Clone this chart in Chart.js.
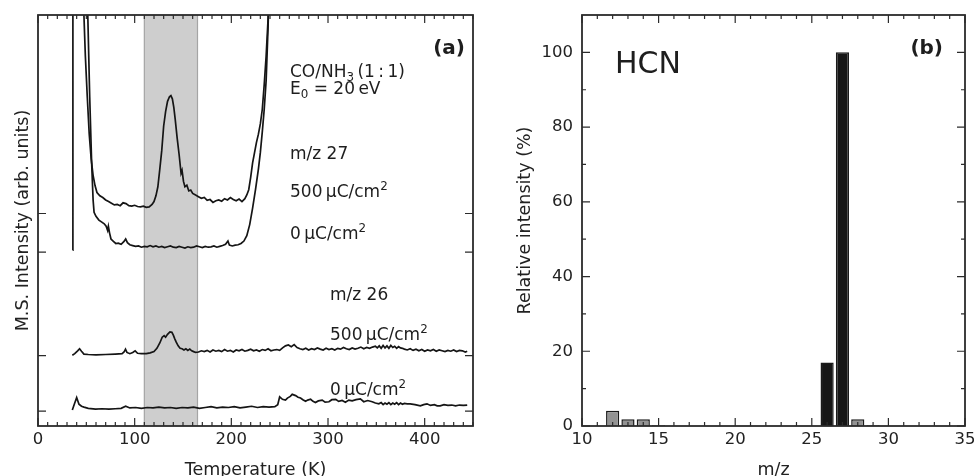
<!DOCTYPE html>
<html>
<head>
<meta charset="utf-8">
<script src="https://cdn.jsdelivr.net/npm/chart.js@4.4.0/dist/chart.umd.min.js"></script>
<style>
  body { margin: 0; background: #fff; overflow: hidden; width: 974px; height: 476px; position: relative; }
  canvas { position: absolute; top: 0; }
  #chartA { left: 0; }
  #chartB { left: 487px; }
</style>
</head>
<body>
<canvas id="chartA" width="487" height="481"></canvas>
<canvas id="chartB" width="487" height="481"></canvas>
<script>
// ---- panel (a): TPD traces, temperature (K) vs intensity (arb. units) ----
// m/z 27, 500 uC/cm2
var t27_500 = [45, 47.5, 49, 51, 53, 55, 57, 59, 61, 64,
  67, 70, 73, 76, 79, 82, 85, 88, 91, 94,
  97, 100, 103, 106, 109, 112, 115, 118, 120, 122,
  124, 126, 128, 130, 132, 134, 136, 137.5, 139, 140.5,
  142, 144, 146, 148, 149, 150.5, 152, 154, 156, 158,
  160, 163, 166, 169, 172, 175, 178, 181, 184, 187,
  190, 193, 196, 199, 202, 205, 208, 211, 214, 216,
  218, 220, 222, 224, 226, 228, 230, 232, 234, 236,
  238, 240];
var i27_500 = [130, 100, 90, 80, 71, 65, 61, 58.5, 56.8, 56,
  55.6, 55, 54.6, 54.2, 53.8, 53.9, 53.6, 54.3, 54.1, 53.6,
  53.5, 53.7, 53.4, 53.3, 53.5, 53.2, 53.3, 53.9, 54.6, 56,
  58.2, 62.5, 67, 73, 76.5, 79, 80.1, 80.4, 79.6, 77.5,
  74.5, 70, 66, 61.5, 62.2, 59.5, 58.2, 58.6, 57.2, 57.4,
  56.6, 56.2, 55.8, 55.4, 55.6, 54.9, 55.1, 54.4, 54.8, 55.0,
  54.7, 55.3, 55.0, 55.6, 55.1, 54.8, 55.2, 54.6, 55.3, 56.2,
  57.5, 60.5, 64, 66.5, 69, 71, 73.5, 77, 83, 90,
  99, 112];

// m/z 27, 0 uC/cm2 (null = gap after the edge at ~36 K)
var t27_0 = [35.8, 36.1, 40, 50, 51.5, 53.5, 55.5, 57, 58, 60,
  63, 66, 68.5, 70.5, 72, 72.8, 74, 75.5, 78, 80.5,
  83, 86, 89, 90.7, 92.5, 95, 98, 101, 104, 107,
  110, 113, 116, 119, 122, 125, 128, 131, 134, 137,
  140, 143, 146, 149, 152, 155, 158, 161, 164, 167,
  170, 173, 176, 179, 182, 185, 188, 191, 194, 196.5,
  198, 201, 204, 207, 210, 213, 216, 219, 222, 225,
  228, 230, 232, 234, 236, 238, 240];
var i27_0 = [42.8, 130, null, 130, 100, 80, 64, 55, 52, 51,
  50.1, 49.6, 49.2, 48.6, 47.6, 48.6, 47, 45.5, 44.9, 44.4,
  44.5, 44.2, 44.9, 45.5, 44.6, 44.1, 43.9, 43.7, 43.8, 43.5,
  43.7, 43.6, 43.9, 43.6, 43.8, 43.5, 43.7, 43.4, 43.6, 43.8,
  43.5, 43.4, 43.7, 43.5, 43.3, 43.6, 43.4, 43.5, 43.8, 43.6,
  43.4, 43.7, 43.5, 43.6, 43.8, 43.5, 43.7, 43.9, 44.2, 45.0,
  44.0, 43.8, 44.0, 44.1, 44.4, 45.0, 46.3, 49, 53, 57.5,
  62.5, 66.5, 71.5, 77, 84, 97, 115];

// m/z 26, 500 uC/cm2
var t26_500 = [35.5, 38, 41, 43, 45, 47.5, 52, 60, 70, 80,
  87, 89, 90.5, 92, 95, 98, 100.5, 103, 107, 112,
  116, 120, 123, 126, 128.5, 130.5, 132, 134, 136.5, 138.5,
  140, 141.5, 143, 145, 147, 149, 151, 153, 155, 157,
  159, 161, 163, 166, 169, 172, 175, 178, 181, 184,
  187, 190, 193, 196, 199, 202, 205, 208, 211, 214,
  217, 220, 223, 226, 229, 232, 235, 238, 241, 244,
  247, 250, 253, 256, 259, 262, 265, 268, 271, 274,
  277, 280, 283, 286, 289, 292, 295, 298, 301, 304,
  307, 310, 313, 316, 319, 322, 325, 328, 331, 334,
  337, 340, 343, 346, 349, 351, 353, 355, 357, 359,
  361, 363, 365, 367, 369, 371, 373, 375, 377, 379,
  382, 385, 388, 391, 394, 397, 400, 403, 406, 409,
  412, 415, 418, 421, 424, 427, 430, 433, 436, 439,
  442, 444];
var i26_500 = [17.2, 17.6, 18.3, 18.8, 18.2, 17.5, 17.4, 17.3, 17.4, 17.5,
  17.6, 18.0, 18.7, 17.9, 17.6, 17.9, 18.3, 17.7, 17.6, 17.6,
  17.8, 18.1, 18.9, 20.2, 21.6, 22.0, 21.6, 22.3, 22.9, 22.8,
  22.1, 21.2, 20.4, 19.5, 18.9, 18.8, 18.5, 18.8, 18.4, 18.7,
  18.3, 18.1, 17.9, 18.0, 18.3, 18.1, 18.4, 18.0, 18.5, 18.2,
  18.4, 18.1, 18.6, 18.2, 18.4, 18.0, 18.5, 18.3, 18.6, 18.2,
  18.4, 18.7, 18.3, 18.5, 18.2, 18.6, 18.4, 18.8, 18.3, 18.5,
  18.6, 18.4, 19.0, 19.5, 19.7, 19.3, 19.8, 19.1, 18.8, 18.6,
  18.9, 18.5, 18.8, 18.6, 19.0, 18.7, 18.5, 18.9, 18.6, 18.8,
  18.5, 18.9, 18.7, 19.1, 18.8, 18.6, 19.0, 18.7, 18.9, 19.2,
  18.8, 19.1, 18.9, 19.2, 19.4, 19.0, 19.5, 18.9, 19.6, 19.0,
  19.5, 18.9, 19.6, 19.1, 19.4, 18.9, 19.3, 19.0, 18.9, 18.7,
  18.5, 18.8, 18.4, 18.7, 18.3, 18.6, 18.2, 18.5, 18.3, 18.6,
  18.2, 18.5, 18.3, 18.1, 18.4, 18.2, 18.5, 18.1, 18.4, 18.3,
  18.0, 18.2];

// m/z 26, 0 uC/cm2
var t26_0 = [35.5, 38, 40, 42.4, 45, 47.6, 52, 59.6, 66, 73.4,
  80, 86, 90.7, 95, 101, 107, 113, 119, 125, 131,
  137, 143, 149, 155, 161, 167, 173, 179, 185, 191,
  197, 203, 209, 215, 221, 227, 233, 239, 245, 248,
  250, 252.9, 256, 258, 261, 263, 266.5, 269, 271.6, 274,
  276.8, 279, 282, 284.5, 287, 290, 294, 297, 301, 304,
  308, 311, 314.6, 318, 321.5, 325, 329, 333.5, 337, 341,
  345.7, 349, 352.6, 355, 357, 359, 361, 363, 365, 367,
  369, 371, 373, 375, 377, 379, 382, 385, 390, 395.5,
  399, 402.4, 406, 410, 413, 416, 420, 424, 428, 432,
  436, 440, 444];
var i26_0 = [3.9, 5.6, 6.9, 5.3, 4.8, 4.6, 4.3, 4.1, 4.2, 4.1,
  4.2, 4.3, 4.8, 4.4, 4.5, 4.3, 4.5, 4.4, 4.6, 4.4,
  4.5, 4.3, 4.5, 4.4, 4.6, 4.3, 4.5, 4.7, 4.4, 4.6,
  4.5, 4.7, 4.4, 4.6, 4.8, 4.5, 4.7, 4.6, 4.7, 5.2,
  7.1, 6.5, 6.3, 6.8, 7.2, 7.7, 7.4, 7.0, 6.8, 6.4,
  6.0, 6.3, 6.5, 6.0, 5.7, 6.1, 6.3, 5.8, 5.9, 6.4,
  6.5, 6.0, 6.2, 5.8, 6.3, 6.1, 6.4, 6.6, 5.9, 6.2,
  5.9, 5.6, 5.4, 5.7, 5.2, 5.6, 5.3, 5.7, 5.2, 5.6,
  5.3, 5.7, 5.2, 5.6, 5.3, 5.5, 5.4, 5.4, 5.2, 4.9,
  5.2, 5.4, 5.0, 5.2, 4.9, 4.9, 5.2, 5.0, 5.1, 4.9,
  5.1, 5.0, 5.1];

var tempTicks = [0, 100, 200, 300, 400];
var baselineTicks = [3.6, 17.1, 42.3, 51.7];
var shadedRange = [110, 165];

// ---- panel (b): HCN mass spectrum ----
var massCharge = [12, 13, 14, 15, 26, 27, 28, 29];
var relIntensity = [4.1, 1.8, 1.8, 0.2, 17.0, 100, 1.8, 0.2];
var mainPeaks = [26, 27];
var mzTicks = [10, 15, 20, 25, 30, 35];
var relTicks = [0, 20, 40, 60, 80, 100];

Chart.defaults.font.family = '"DejaVu Sans", sans-serif';
Chart.defaults.color = '#222';
Chart.defaults.animation = false;

function range(a, b, s) { var r = []; for (var v = a; v <= b + 1e-9; v += s) r.push(v); return r; }
function toPts(t, v) { return t.map(function (x, i) { return {x: x, y: v[i]}; }); }
function noPadX(s) { s.height = 55; s.paddingLeft = 0; s.paddingRight = 0; }

// inward ticks on all four sides plus the frame
var frameTicks = {
  id: 'frameTicks',
  afterDatasetsDraw: function (chart, args, o) {
    var ctx = chart.ctx, a = chart.chartArea, x = chart.scales.x, y = chart.scales.y;
    ctx.save();
    ctx.strokeStyle = '#2b2b2b';
    ctx.lineWidth = 1.2;
    ctx.beginPath();
    function xt(v, len) { var p = x.getPixelForValue(v); ctx.moveTo(p, a.bottom); ctx.lineTo(p, a.bottom - len); ctx.moveTo(p, a.top); ctx.lineTo(p, a.top + len); }
    function yt(v, len) { var p = y.getPixelForValue(v); ctx.moveTo(a.left, p); ctx.lineTo(a.left + len, p); ctx.moveTo(a.right, p); ctx.lineTo(a.right - len, p); }
    o.xMinor.forEach(function (v) { xt(v, 4); });
    o.xMajor.forEach(function (v) { xt(v, 8); });
    o.yMinor.forEach(function (v) { yt(v, 4); });
    o.yMajor.forEach(function (v) { yt(v, 8); });
    ctx.stroke();
    ctx.lineWidth = 1.8;
    ctx.strokeRect(a.left, a.top, a.right - a.left, a.bottom - a.top);
    ctx.restore();
  }
};

var band = {
  id: 'band',
  beforeDatasetsDraw: function (chart, args, o) {
    if (!o.range) return;
    var ctx = chart.ctx, a = chart.chartArea, x = chart.scales.x;
    var x0 = x.getPixelForValue(o.range[0]), x1 = x.getPixelForValue(o.range[1]);
    ctx.save();
    ctx.fillStyle = '#cecece';
    ctx.fillRect(x0, a.top, x1 - x0, a.bottom - a.top);
    ctx.strokeStyle = '#a5a5a5';
    ctx.lineWidth = 1.2;
    ctx.beginPath();
    ctx.moveTo(x0, a.top); ctx.lineTo(x0, a.bottom);
    ctx.moveTo(x1, a.top); ctx.lineTo(x1, a.bottom);
    ctx.stroke();
    ctx.restore();
  }
};

// text notes; each note is a list of runs, run.s = 'sub' | 'sup'
var notes = {
  id: 'notes',
  afterDraw: function (chart, args, o) {
    var ctx = chart.ctx;
    ctx.save();
    ctx.fillStyle = '#1e1e1e';
    ctx.textBaseline = 'alphabetic';
    ctx.textAlign = 'left';
    o.items.forEach(function (n) {
      var size = n.size || 17, weight = n.bold ? 'bold ' : '';
      var runs = typeof n.text === 'string' ? [{t: n.text}] : n.text;
      var widths = runs.map(function (r) {
        ctx.font = weight + (r.s ? size * 0.7 : size) + 'px "DejaVu Sans"';
        return ctx.measureText(r.t).width;
      });
      var total = widths.reduce(function (p, c) { return p + c; }, 0);
      var x = n.align === 'right' ? n.x - total : n.x;
      var base = n.y + size * 0.36;
      runs.forEach(function (r, i) {
        ctx.font = weight + (r.s ? size * 0.7 : size) + 'px "DejaVu Sans"';
        var dy = r.s === 'sub' ? size * 0.2 : r.s === 'sup' ? -size * 0.42 : 0;
        ctx.fillText(r.t, x, base + dy);
        x += widths[i];
      });
    });
    ctx.restore();
  }
};

function dose(v) { return [{t: v + '\u2009\u00b5C/cm'}, {t: '2', s: 'sup'}]; }

var lineStyle = {borderColor: '#151515', borderWidth: 1.7, pointRadius: 0, tension: 0, spanGaps: false};

new Chart(document.getElementById('chartA'), {
  type: 'line',
  data: {
    datasets: [
      Object.assign({data: toPts(t27_500, i27_500)}, lineStyle),
      Object.assign({data: toPts(t27_0, i27_0)}, lineStyle),
      Object.assign({data: toPts(t26_500, i26_500)}, lineStyle),
      Object.assign({data: toPts(t26_0, i26_0)}, lineStyle)
    ]
  },
  options: {
    responsive: false,
    layout: {padding: {top: 15, right: 14, bottom: 0, left: 0}},
    plugins: {
      legend: {display: false},
      tooltip: {enabled: false},
      band: {range: shadedRange},
      frameTicks: {xMajor: tempTicks, xMinor: range(0, 450, 10), yMajor: baselineTicks, yMinor: []},
      notes: {items: [
        {text: '(a)', x: 465, y: 47, size: 20, bold: true, align: 'right'},
        {text: [{t: 'CO/NH'}, {t: '3', s: 'sub'}, {t: '\u2009(1\u2009:\u20091)'}], x: 290, y: 71},
        {text: [{t: 'E'}, {t: '0', s: 'sub'}, {t: ' = 20\u2009eV'}], x: 290, y: 88},
        {text: 'm/z 27', x: 290, y: 153},
        {text: dose(500), x: 290, y: 191},
        {text: dose(0), x: 290, y: 233},
        {text: 'm/z 26', x: 330, y: 294},
        {text: dose(500), x: 330, y: 334},
        {text: dose(0), x: 330, y: 389}
      ]}
    },
    scales: {
      x: {
        type: 'linear', min: 0, max: 450,
        afterBuildTicks: function (s) { s.ticks = tempTicks.map(function (v) { return {value: v}; }); },
        afterFit: noPadX,
        grid: {display: false, drawTicks: false},
        border: {display: false},
        ticks: {padding: 4, font: {size: 16.5}, maxRotation: 0, autoSkip: false},
        title: {display: true, text: 'Temperature (K)', font: {size: 17.5}, padding: {top: 0, bottom: 0}}
      },
      y: {
        type: 'linear', min: 0, max: 100,
        afterFit: function (s) { s.width = 38; s.paddingTop = 0; s.paddingBottom = 0; },
        grid: {display: false, drawTicks: false},
        border: {display: false},
        ticks: {display: false},
        title: {display: true, text: 'M.S. Intensity (arb. units)', font: {size: 17.5}, padding: {top: 12.5, bottom: 0}}
      }
    }
  },
  plugins: [band, frameTicks, notes]
});

new Chart(document.getElementById('chartB'), {
  type: 'bar',
  data: {
    datasets: [{
      data: toPts(massCharge, relIntensity),
      backgroundColor: massCharge.map(function (m) { return mainPeaks.indexOf(m) >= 0 ? '#161616' : '#939393'; }),
      borderColor: '#1a1a1a',
      borderWidth: 1.5,
      barPercentage: 0.86,
      categoryPercentage: 1
    }]
  },
  options: {
    responsive: false,
    layout: {padding: {top: 15, right: 9, bottom: 0, left: 0}},
    plugins: {
      legend: {display: false},
      tooltip: {enabled: false},
      frameTicks: {xMajor: mzTicks, xMinor: range(10, 35, 1), yMajor: relTicks, yMinor: range(10, 100, 10)},
      notes: {items: [
        {text: '(b)', x: 456, y: 47, size: 20, bold: true, align: 'right'},
        {text: 'HCN', x: 128, y: 62, size: 30}
      ]}
    },
    scales: {
      x: {
        type: 'linear', min: 10, max: 35, offset: false,
        afterBuildTicks: function (s) { s.ticks = mzTicks.map(function (v) { return {value: v}; }); },
        afterFit: noPadX,
        grid: {display: false, drawTicks: false, offset: false},
        border: {display: false},
        ticks: {padding: 4, font: {size: 16.5}, maxRotation: 0, autoSkip: false},
        title: {display: true, text: 'm/z', font: {size: 17.5}, padding: {top: 0, bottom: 0}}
      },
      y: {
        type: 'linear', min: 0, max: 110,
        afterBuildTicks: function (s) { s.ticks = relTicks.map(function (v) { return {value: v}; }); },
        afterFit: function (s) { s.width = 95; s.paddingTop = 0; s.paddingBottom = 0; },
        grid: {display: false, drawTicks: false},
        border: {display: false},
        ticks: {padding: 9, font: {size: 16.5}},
        title: {display: true, text: 'Relative intensity (%)', font: {size: 17.5}, padding: {top: 27.5, bottom: 0}}
      }
    }
  },
  plugins: [frameTicks, notes]
});
</script>
</body>
</html>
